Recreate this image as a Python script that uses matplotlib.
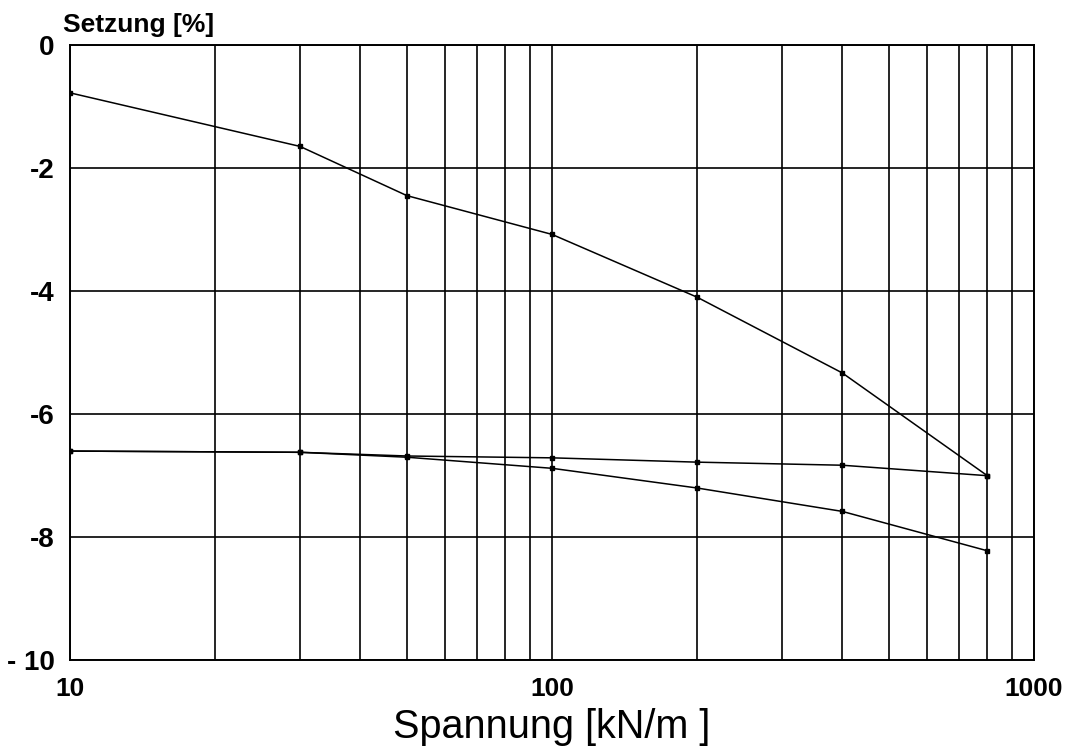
import matplotlib.pyplot as plt
from matplotlib.ticker import FixedLocator, NullFormatter

plt.rcParams['font.family'] = ['Liberation Sans', 'DejaVu Sans']

# Oedometer test: settlement vs. stress (log scale)
stress = [10, 30, 50, 100, 200, 400, 800]
loading = [-0.78, -1.65, -2.45, -3.08, -4.1, -5.33, -7.0]
unloading = [-6.6, -6.62, -6.68, -6.71, -6.78, -6.83, -7.0]
reloading = [-6.6, -6.62, -6.7, -6.88, -7.2, -7.58, -8.22]

y_ticks = [0, -2, -4, -6, -8, -10]
y_labels = ['0', '-2', '-4', '-6', '-8', '- 10']
x_ticks = [10, 100, 1000]
x_labels = ['10', '100', '1000']

fig = plt.figure(figsize=(10.76, 7.47), dpi=100)
ax = fig.add_axes([0.065, 0.116, 0.896, 0.824])

for series in (loading, unloading, reloading):
    ax.plot(stress, series, '-s', color='black', lw=1.1, ms=3.5, zorder=3)

ax.set_xscale('log')
ax.set_xlim(10, 1000)
ax.set_ylim(-10, 0)

ax.xaxis.set_major_locator(FixedLocator(x_ticks))
ax.set_xticklabels(x_labels)
minor = [m * d for d in (10, 100) for m in range(2, 10)]
ax.xaxis.set_minor_locator(FixedLocator(minor))
ax.xaxis.set_minor_formatter(NullFormatter())
ax.set_yticks(y_ticks)
ax.set_yticklabels(y_labels)

ax.grid(True, which='both', axis='x', color='black', lw=1.2)
ax.grid(True, which='major', axis='y', color='black', lw=1.2)
for s in ax.spines.values():
    s.set_linewidth(1.4)

ax.tick_params(which='both', length=0)
ax.tick_params(axis='x', pad=12, labelsize=19)
ax.tick_params(axis='y', pad=11, labelsize=20)
for lab in ax.get_xticklabels() + ax.get_yticklabels():
    lab.set_fontweight('bold')

ax.set_xlabel('Spannung [kN/m ]', fontsize=28.5, labelpad=5)
ax.text(-0.007, 1.012, 'Setzung [%]', transform=ax.transAxes,
        ha='left', va='bottom', fontsize=19, fontweight='bold')

fig.savefig('out.png', dpi=100)
